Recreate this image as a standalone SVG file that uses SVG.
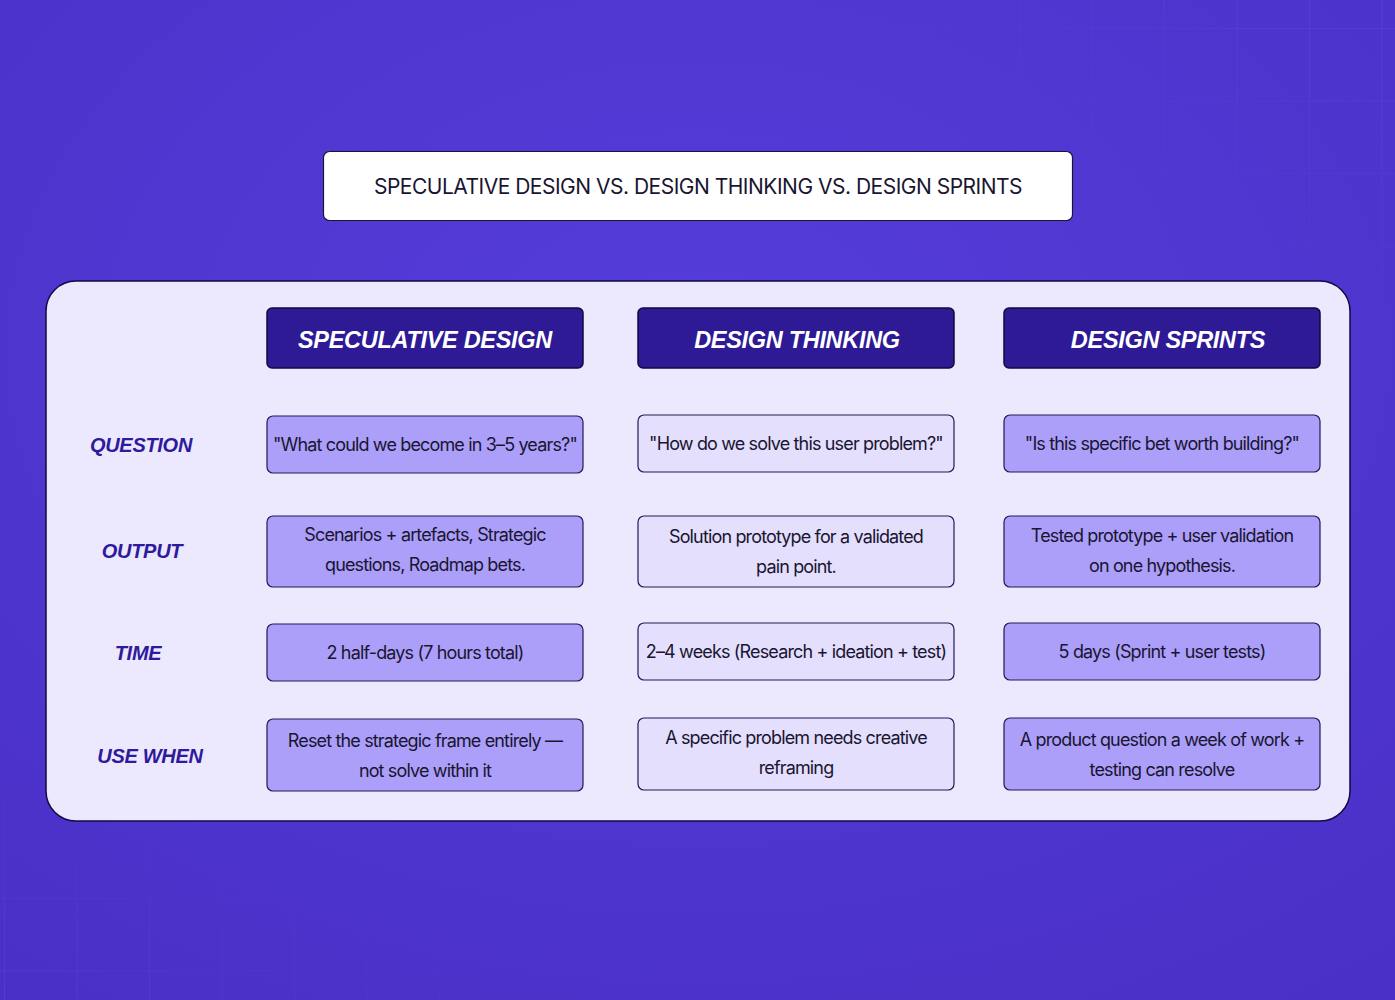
<svg xmlns="http://www.w3.org/2000/svg" width="1395" height="1000" viewBox="0 0 1395 1000">
<defs>
<radialGradient id="bg" cx="0.5" cy="0.35" r="0.8">
<stop offset="0" stop-color="#553ddb"/><stop offset="1" stop-color="#4a30c6"/>
</radialGradient>
<pattern id="grid" width="72.5" height="72.5" patternUnits="userSpaceOnUse" x="4" y="28">
<path d="M0 0H72.5M0 0V72.5" stroke="#6a55e6" stroke-width="1.2" fill="none"/>
</pattern>
<linearGradient id="fadeTR" x1="1" y1="0" x2="0" y2="1"><stop offset="0" stop-color="#fff" stop-opacity="0.6"/><stop offset="0.6" stop-color="#fff" stop-opacity="0"/></linearGradient>
<mask id="mTR"><rect x="900" y="0" width="495" height="330" fill="url(#fadeTR)"/></mask>
<linearGradient id="fadeBL" x1="0" y1="1" x2="1" y2="0"><stop offset="0" stop-color="#fff" stop-opacity="0.5"/><stop offset="0.6" stop-color="#fff" stop-opacity="0"/></linearGradient>
<mask id="mBL"><rect x="0" y="780" width="500" height="220" fill="url(#fadeBL)"/></mask>
</defs>
<style>
.t{font-family:Inter,"Noto Sans",sans-serif;font-size:18px;fill:#1a1530;text-anchor:middle;letter-spacing:-0.85px}
.h{font-family:"Liberation Sans",Arial,sans-serif;font-size:23.5px;font-weight:bold;font-style:italic;fill:#fff;text-anchor:middle;letter-spacing:-0.3px}
.l{font-family:"Liberation Sans",Arial,sans-serif;font-size:20px;font-weight:bold;font-style:italic;fill:#2e1a9c;text-anchor:middle;letter-spacing:-0.3px}
.hd{fill:#2d1a94;stroke:#120a40;stroke-width:1.5}
.c1{fill:#ab9ffa;stroke:#221a55;stroke-width:1.2}
.c2{fill:#e3dffc;stroke:#221a55;stroke-width:1.2}
</style>
<rect width="1395" height="1000" fill="url(#bg)"/>
<rect x="900" y="0" width="495" height="330" fill="url(#grid)" mask="url(#mTR)"/>
<rect x="0" y="780" width="500" height="220" fill="url(#grid)" mask="url(#mBL)"/>
<g id="title">
<rect x="323.5" y="151.5" width="749" height="69" rx="6" fill="#fff" stroke="#1a1530" stroke-width="1.2"/>
<text x="698" y="194" class="t" style="font-size:21px;letter-spacing:-0.5px">SPECULATIVE DESIGN VS. DESIGN THINKING VS. DESIGN SPRINTS</text>
</g>
<g id="panel"><rect x="46" y="281" width="1304" height="540" rx="30" fill="#ece8fd" stroke="#120a40" stroke-width="1.5"/></g>
<g id="headers">
<g id="h1"><rect class="hd" x="267" y="308" width="316" height="60" rx="5"/><text class="h" x="425" y="348">SPECULATIVE DESIGN</text></g>
<g id="h2"><rect class="hd" x="638" y="308" width="316" height="60" rx="5"/><text class="h" x="797" y="348">DESIGN THINKING</text></g>
<g id="h3"><rect class="hd" x="1004" y="308" width="316" height="60" rx="5"/><text class="h" x="1168" y="348">DESIGN SPRINTS</text></g>
</g>
<g id="labels">
<text class="l" x="141" y="452">QUESTION</text>
<text class="l" x="142" y="558">OUTPUT</text>
<text class="l" x="138" y="660">TIME</text>
<text class="l" x="150" y="763">USE WHEN</text>
</g>
<g id="r1">
<g id="q1"><rect class="c1" x="267" y="416" width="316" height="57" rx="6"/><text class="t" x="425" y="451">"What could we become in 3–5 years?"</text></g>
<g id="q2"><rect class="c2" x="638" y="415" width="316" height="57" rx="6"/><text class="t" x="796" y="450">"How do we solve this user problem?"</text></g>
<g id="q3"><rect class="c1" x="1004" y="415" width="316" height="57" rx="6"/><text class="t" x="1162" y="450">"Is this specific bet worth building?"</text></g>
</g>
<g id="r2">
<g id="o1"><rect class="c1" x="267" y="516" width="316" height="71" rx="6"/><text class="t" x="425" y="541">Scenarios + artefacts, Strategic</text><text class="t" x="425" y="571">questions, Roadmap bets.</text></g>
<g id="o2"><rect class="c2" x="638" y="516" width="316" height="71" rx="6"/><text class="t" x="796" y="543">Solution prototype for a validated</text><text class="t" x="796" y="573">pain point.</text></g>
<g id="o3"><rect class="c1" x="1004" y="516" width="316" height="71" rx="6"/><text class="t" x="1162" y="542">Tested prototype + user validation</text><text class="t" x="1162" y="572">on one hypothesis.</text></g>
</g>
<g id="r3">
<g id="t1"><rect class="c1" x="267" y="624" width="316" height="57" rx="6"/><text class="t" x="425" y="659">2 half-days (7 hours total)</text></g>
<g id="t2"><rect class="c2" x="638" y="623" width="316" height="57" rx="6"/><text class="t" x="796" y="658">2–4 weeks (Research + ideation + test)</text></g>
<g id="t3"><rect class="c1" x="1004" y="623" width="316" height="57" rx="6"/><text class="t" x="1162" y="658">5 days (Sprint + user tests)</text></g>
</g>
<g id="r4">
<g id="u1"><rect class="c1" x="267" y="719" width="316" height="72" rx="6"/><text class="t" x="425" y="747">Reset the strategic frame entirely —</text><text class="t" x="425" y="777">not solve within it</text></g>
<g id="u2"><rect class="c2" x="638" y="718" width="316" height="72" rx="6"/><text class="t" x="796" y="744">A specific problem needs creative</text><text class="t" x="796" y="774">reframing</text></g>
<g id="u3"><rect class="c1" x="1004" y="718" width="316" height="72" rx="6"/><text class="t" x="1162" y="746">A product question a week of work +</text><text class="t" x="1162" y="776">testing can resolve</text></g>
</g>
<g id="connectors"/>
</svg>
